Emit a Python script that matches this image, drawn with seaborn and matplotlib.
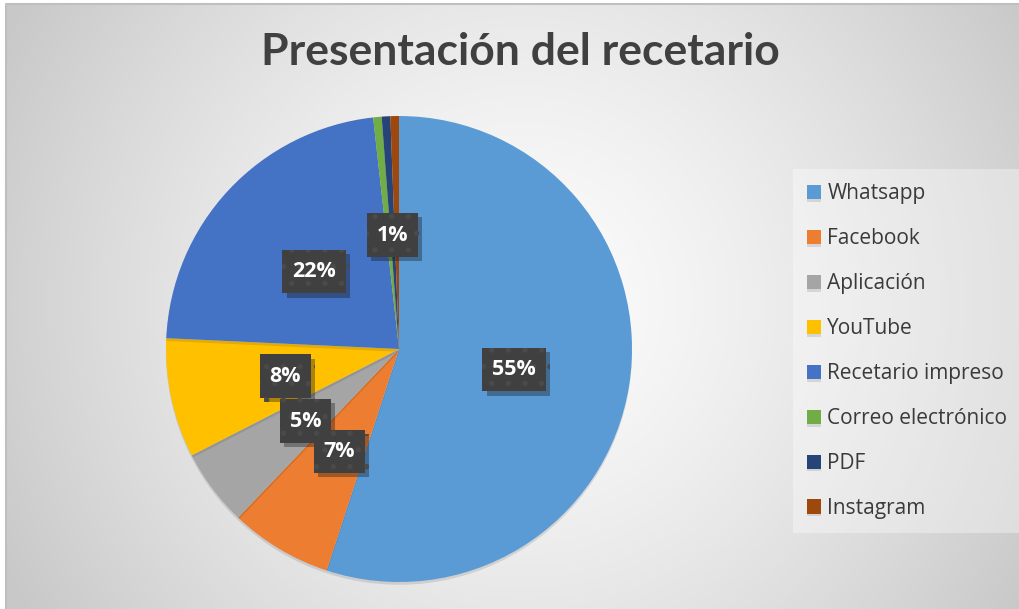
import numpy as np
import matplotlib
matplotlib.use("Agg")
import matplotlib.pyplot as plt
import matplotlib.patheffects as pe
from matplotlib.path import Path
import seaborn as sns

# ---- data ----
categories = ["Whatsapp", "Facebook", "Aplicación", "YouTube",
              "Recetario impreso", "Correo electrónico", "PDF", "Instagram"]
counts = [93, 12, 9, 14, 38, 1, 1, 1]
shown_labels = ["55%", "7%", "5%", "8%", "22%", "", "1%", ""]
colors = ["#5B9BD5", "#ED7D31", "#A5A5A5", "#FFC000",
          "#4472C4", "#70AD47", "#264478", "#9E480E"]
title = "Presentación del recetario"

sns.set_theme(style="white")
plt.rcParams["font.family"] = ["Lato", "DejaVu Sans"]
plt.rcParams["hatch.linewidth"] = 1.5

W, H = 1020, 609
fig = plt.figure(figsize=(W / 100, H / 100), dpi=100)
fig.patch.set_facecolor("white")

# background radial gradient (chart area with a thin border)
bg = fig.add_axes([6 / W, 0, 1 - 6 / W, 1 - 4 / H])
bg.set_axis_off()
yy, xx = np.mgrid[0:H, 0:W]
r = np.hypot(xx - 520, yy - 300) / 590.0
val = 252 - 52 * np.clip(r, 0, 1) ** 1.4
img = np.dstack([val, val, val]) / 255.0
bg.imshow(img, aspect="auto", extent=[0, 1, 0, 1], zorder=0)
bg.set_xlim(0, 1)
bg.set_ylim(0, 1)
bg.plot([0, 0, 1], [0, 1, 1], color="#BFBFBF", lw=1.5, transform=bg.transAxes, clip_on=False)

# pie
cx, cy, R = 399, 349, 233
ax = fig.add_axes([(cx - R) / W, (H - cy - R) / H, 2 * R / W, 2 * R / H])
ax.set_axis_off()
wedges, _ = ax.pie(counts, colors=colors, startangle=90, counterclock=False,
                   radius=1.0, wedgeprops=dict(linewidth=0))
for w in wedges:
    w.set_path_effects([pe.SimplePatchShadow(offset=(0, -2), shadow_rgbFace="k", alpha=0.12), pe.Normal()])
ax.set_xlim(-1, 1)
ax.set_ylim(-1, 1)


def tallbox(x0, y0, width, height, mutation_size):
    px = 0.45 * mutation_size
    py = 0.52 * mutation_size
    x0, y0 = x0 - px, y0 - py
    x1, y1 = x0 + width + 2 * px, y0 + height + 2 * py
    return Path([(x0, y0), (x1, y0), (x1, y1), (x0, y1), (x0, y0)], closed=True)


for i, (w, lab) in enumerate(zip(wedges, shown_labels)):
    if not lab:
        continue
    ang = np.deg2rad((w.theta1 + w.theta2) / 2)
    x, y = 0.5 * np.cos(ang), 0.5 * np.sin(ang) - 0.01
    t = ax.text(x, y, lab, ha="center", va="center", color="white",
                fontsize=15.5, fontweight="bold", family=["Open Sans", "DejaVu Sans"],
                zorder=20 - i,
                bbox=dict(boxstyle=tallbox, facecolor="#404040",
                          edgecolor="#4A4A4A", linewidth=0, hatch="."))
    t.get_bbox_patch().set_path_effects(
        [pe.SimplePatchShadow(offset=(3, -3), alpha=0.35), pe.Normal()])

# title
fig.text(520 / W, 1 - 52 / H, title, ha="center", va="center",
         fontsize=32, fontweight="bold", color="#404040")

# legend
leg = fig.legend(wedges, categories, loc="upper left",
                 bbox_to_anchor=(793 / W, 1 - 169 / H),
                 prop=dict(family=["Open Sans", "DejaVu Sans"], size=15),
                 frameon=True, fancybox=False,
                 handlelength=0.67, handleheight=0.67, handletextpad=0.3,
                 labelspacing=1.15, borderpad=0.68, borderaxespad=0)
leg.get_frame().set_facecolor("white")
leg.get_frame().set_alpha(0.35)
leg.get_frame().set_linewidth(0)
for txt in leg.get_texts():
    txt.set_color("#3A3A3A")

fig.savefig("out.png", dpi=100)
